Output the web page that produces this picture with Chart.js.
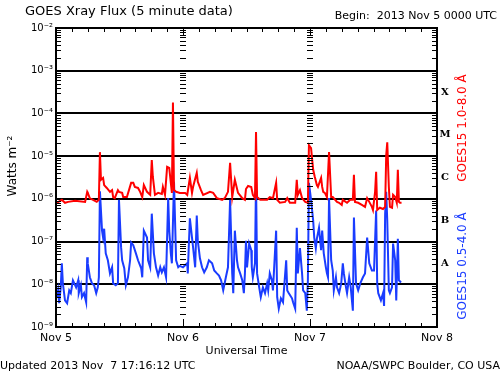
<!DOCTYPE html>
<html>
<head>
<meta charset="utf-8">
<script src="https://cdn.jsdelivr.net/npm/chart.js@4"></script>
<style>
  html, body { margin: 0; padding: 0; background: #fff; }
  canvas { display: block; }
</style>
</head>
<body>
<canvas id="xrayChart" width="500" height="375"></canvas>
<script>
// Hours since 2013 Nov 5 00:00 UTC and flux (W/m^2)
const redHours = [0.2, 1.1, 1.7, 2.3, 3.6, 5.5, 5.9, 6.0, 6.4, 7.0, 7.7, 8.1, 8.3, 8.5, 8.9, 9.1, 9.6, 10.2, 10.6, 10.8,
  11.1, 11.7, 11.9, 12.5, 12.7, 13.4, 14.2, 14.6, 14.9, 15.5, 15.9, 16.3, 16.6, 17.2, 17.8, 18.1, 18.3, 18.7, 19.3, 20.0,
  20.2, 20.6, 21.0, 21.4, 21.9, 22.1, 22.3, 22.7, 23.4, 24.4, 24.8, 25.3, 25.7, 25.9, 26.6, 26.8, 27.4, 27.8, 29.1, 29.7,
  30.4, 31.4, 31.9, 32.5, 32.9, 33.3, 33.8, 34.4, 35.2, 35.7, 35.9, 36.3, 36.9, 37.2, 37.6, 37.8, 38.0, 38.6, 39.9, 40.4,
  41.0, 41.6, 41.8, 42.3, 43.3, 43.7, 44.2, 45.2, 45.5, 45.7, 46.1, 46.5, 47.1, 47.6, 47.8, 48.2, 48.6, 48.9, 49.3, 49.5,
  50.1, 50.3, 50.5, 50.8, 51.2, 51.6, 52.0, 52.3, 53.1, 53.5, 54.0, 54.2, 55.0, 55.6, 56.1, 56.3, 56.5, 57.1, 57.8, 58.4,
  58.8, 59.2, 59.7, 59.9, 60.3, 60.5, 60.7, 61.2, 61.8, 62.2, 62.4, 62.6, 62.9, 63.1, 63.5, 63.7, 64.1, 64.4, 64.6, 64.8,
  65.0, 65.3];
const redFlux = [8.1e-7, 9.5e-7, 8.1e-7, 8.5e-7, 9e-7, 8.5e-7, 1.46e-6, 1.38e-6, 1.03e-6, 9.5e-7, 8.5e-7, 9.5e-7, 1.24e-5, 2.8e-6, 3.1e-6, 2.1e-6, 1.8e-6, 1.46e-6, 1.6e-6, 1.1e-6,
  1.04e-6, 1.6e-6, 1.46e-6, 1.38e-6, 1.1e-6, 1.1e-6, 2.37e-6, 2.37e-6, 1.9e-6, 1.8e-6, 1.46e-6, 1.1e-6, 2.1e-6, 1.46e-6, 1.24e-6, 8.1e-6, 3.3e-6, 1.24e-6, 1.38e-6, 1.3e-6,
  1.9e-6, 1.24e-6, 5.6e-6, 5.3e-6, 1.38e-6, 1.8e-4, 1.6e-6, 1.46e-6, 1.38e-6, 1.38e-6, 1.24e-6, 3.1e-6, 1.38e-6, 1.9e-6, 4.06e-6, 2.5e-6, 1.6e-6, 1.24e-6, 1.46e-6, 1.38e-6,
  1.04e-6, 9.5e-7, 1.04e-6, 1.46e-6, 7e-6, 1.1e-6, 2.8e-6, 1.38e-6, 1.04e-6, 9.5e-7, 1.7e-6, 2.0e-6, 1.9e-6, 1.24e-6, 1.04e-6, 3.65e-5, 1.1e-6, 9.5e-7, 9.5e-7, 1.1e-6,
  1.04e-6, 2.37e-6, 9.5e-7, 8.1e-7, 8.5e-7, 1.04e-6, 8.1e-7, 8.1e-7, 2.8e-6, 1.24e-6, 1.6e-6, 1.04e-6, 8.5e-7, 8.1e-7, 1.8e-5, 1.54e-5, 4.8e-6, 3.3e-6, 2.1e-6, 1.9e-6,
  3.1e-6, 1.9e-6, 1.46e-6, 1.38e-6, 1.1e-6, 1.24e-5, 1.1e-6, 1.1e-6, 8.5e-7, 8.1e-7, 7.2e-7, 9.5e-7, 8.1e-7, 9.5e-7, 9.5e-7, 3.65e-6, 8.5e-7, 8.1e-7, 7.2e-7, 6.5e-7,
  1.04e-6, 8.5e-7, 6.5e-7, 5.5e-7, 1.46e-6, 4.3e-6, 5.5e-7, 6.2e-7, 5.8e-7, 6.5e-7, 1.05e-5, 2.1e-5, 1.9e-6, 6.5e-7, 6.2e-7, 1.24e-6, 1.1e-6, 8.1e-7, 4.8e-6, 8.5e-7,
  8.1e-7, 8.1e-7];

const blueHours = [0.2, 0.4, 0.6, 0.9, 1.1, 1.3, 1.7, 2.1, 2.5, 2.8, 3.2, 3.8, 4.2, 4.3, 4.7, 4.9, 5.3, 5.7, 5.9, 6.0,
  6.4, 6.8, 7.2, 7.6, 7.9, 8.1, 8.3, 8.7, 8.9, 9.1, 9.4, 9.8, 10.2, 10.6, 10.8, 11.3, 11.7, 11.9, 12.3, 12.5,
  12.9, 13.2, 13.6, 14.0, 14.2, 14.6, 15.1, 15.5, 16.1, 16.3, 16.6, 17.2, 17.4, 17.8, 18.1, 18.5, 18.9, 19.3, 19.7, 20.0,
  20.4, 20.8, 21.2, 21.4, 21.7, 21.9, 22.3, 22.7, 23.1, 23.4, 24.0, 24.8, 24.9, 25.3, 25.7, 25.9, 26.3, 26.6, 26.8, 27.2,
  27.6, 28.0, 28.5, 28.9, 29.5, 29.9, 30.4, 30.8, 31.2, 31.6, 32.1, 32.5, 32.9, 33.3, 33.5, 33.8, 34.2, 34.4, 34.8, 35.2,
  35.5, 35.7, 35.9, 36.1, 36.5, 36.9, 37.0, 37.2, 37.6, 37.8, 38.0, 38.4, 38.7, 39.1, 39.5, 39.9, 40.1, 40.4, 40.8, 41.0,
  41.6, 41.8, 42.1, 42.5, 42.9, 43.5, 43.7, 44.0, 44.6, 44.8, 45.2, 45.5, 45.7, 46.1, 46.5, 46.7, 47.1, 47.4, 47.6, 47.8,
  48.2, 48.6, 48.8, 49.1, 49.3, 49.7, 50.1, 50.3, 50.6, 51.0, 51.2, 51.4, 51.6, 52.0, 52.3, 52.5, 52.9, 53.1, 53.5, 53.9,
  54.2, 54.4, 54.8, 55.0, 55.4, 55.7, 56.1, 56.3, 56.7, 57.1, 57.5, 58.0, 58.4, 58.8, 59.2, 59.7, 60.1, 60.5, 60.7, 60.9,
  61.4, 61.8, 62.0, 62.2, 62.4, 62.6, 62.9, 63.1, 63.5, 63.7, 64.1, 64.3, 64.6, 64.8, 65.2];
const blueFlux = [5e-9, 7.2e-9, 3.6e-9, 8.5e-9, 3.1e-8, 1.05e-8, 4.2e-9, 3.6e-9, 7.2e-9, 6.2e-9, 1.24e-8, 8.5e-9, 1.24e-8, 6.2e-9, 9.5e-9, 5e-9, 6.2e-9, 3.8e-9, 4.3e-8, 3.1e-8,
  1.46e-8, 1.05e-8, 9.5e-9, 6.2e-9, 8.5e-9, 1.46e-8, 1.5e-6, 1.8e-7, 1.24e-7, 2e-7, 5.3e-8, 3.65e-8, 1.8e-8, 2.5e-8, 1.05e-8, 9.5e-9, 1.05e-8, 9.5e-7, 7.4e-8, 3.65e-8,
  2.37e-8, 9.5e-9, 1.46e-8, 3.65e-8, 9.5e-8, 8.2e-8, 5.3e-8, 3.65e-8, 2.37e-8, 1.46e-8, 1.8e-7, 1.24e-7, 3.65e-8, 2.5e-8, 4.5e-7, 5.3e-8, 2.5e-8, 1.6e-8, 2.5e-8, 1.9e-8,
  2.5e-8, 1.46e-8, 1.05e-6, 1.8e-7, 5.3e-8, 3.1e-8, 2.5e-6, 3.65e-8, 2.5e-8, 2.7e-8, 2.5e-8, 3.1e-8, 1.8e-8, 3.5e-7, 1.24e-7, 7.4e-8, 2.5e-8, 4.06e-7, 1.05e-7, 4.06e-8,
  2.5e-8, 1.9e-8, 2.5e-8, 3.65e-8, 3.1e-8, 2.1e-8, 1.8e-8, 1.6e-8, 1.24e-8, 7.2e-9, 1.46e-8, 2.5e-8, 9.5e-7, 1.8e-8, 6.2e-9, 1.8e-7, 3.65e-8, 2.5e-8, 1.8e-8, 1.24e-8,
  6.2e-9, 1.8e-8, 1.05e-7, 2.5e-8, 9e-8, 6.3e-8, 2.5e-8, 1.46e-8, 3.1e-8, 2.8e-6, 1.8e-8, 8.5e-9, 5e-9, 8.5e-9, 6.2e-9, 1.05e-8, 7.2e-9, 1.8e-8, 1.24e-8, 7.2e-9,
  1.8e-7, 5e-9, 2.7e-9, 4.7e-9, 3.8e-9, 3.65e-8, 7.2e-9, 6.2e-9, 4.7e-9, 3.8e-9, 2.7e-9, 2.1e-7, 1.8e-8, 7e-8, 1.8e-8, 7.2e-9, 6.2e-9, 2.4e-9, 1.24e-8, 2.37e-6,
  9.5e-7, 3.1e-7, 1.24e-7, 7e-8, 1.17e-7, 2.1e-7, 6.3e-8, 1.8e-7, 5.3e-8, 2.5e-8, 1.8e-8, 1.46e-8, 1.05e-6, 3.65e-8, 2.1e-8, 7.2e-9, 1.46e-8, 8.5e-9, 6.2e-9, 1.05e-8,
  3.1e-8, 1.8e-8, 8.5e-9, 6.2e-9, 1.46e-8, 8.5e-9, 2.4e-9, 3.65e-7, 1.05e-8, 7.2e-9, 1.05e-8, 1.46e-8, 1.8e-8, 1.24e-7, 3.1e-8, 2.1e-8, 2.1e-8, 5.3e-7, 1.05e-8, 6.2e-9,
  4.2e-9, 6.2e-9, 3.1e-9, 4.5e-7, 1.46e-6, 3.1e-7, 7.2e-9, 6.2e-9, 8.5e-9, 9e-8, 3.65e-8, 4.2e-9, 1.17e-7, 1.24e-8, 1.1e-8];

const dayTicks = [0, 24, 48, 72];
const dayLabels = ['Nov 5', 'Nov 6', 'Nov 7', 'Nov 8'];
const decades = [1e-9, 1e-8, 1e-7, 1e-6, 1e-5, 1e-4, 1e-3, 1e-2];
const decadeLabels = ['10⁻⁹', '10⁻⁸', '10⁻⁷', '10⁻⁶', '10⁻⁵', '10⁻⁴', '10⁻³', '10⁻²'];
const flareClasses = ['A', 'B', 'C', 'M', 'X'];

const FONT = "'DejaVu Sans', sans-serif";

// frame, minor ticks and all the loose text around the plot
const decorations = {
    id: 'decorations',
    afterDatasetsDraw(chart) {
        const { ctx, chartArea: a, scales: { x, y } } = chart;
        ctx.save();
        ctx.strokeStyle = '#000';
        ctx.lineWidth = 1;

        // log minor ticks on left/right edges and at day boundaries
        ctx.beginPath();
        for (let i = 0; i < decades.length - 1; i++) {
            for (let m = 2; m <= 9; m++) {
                const py = Math.round(y.getPixelForValue(decades[i] * m)) + 0.5;
                ctx.moveTo(a.left, py); ctx.lineTo(a.left + 5, py);
                ctx.moveTo(a.right - 5, py); ctx.lineTo(a.right, py);
                [24, 48].forEach(h => {
                    const px = Math.round(x.getPixelForValue(h));
                    ctx.moveTo(px - 3, py); ctx.lineTo(px + 3, py);
                });
            }
        }
        // 3-hour ticks on top and bottom
        for (let h = 3; h < 72; h += 3) {
            const px = Math.round(x.getPixelForValue(h)) + 0.5;
            const len = h % 24 === 0 ? 8 : 4;
            ctx.moveTo(px, a.bottom); ctx.lineTo(px, a.bottom - len);
            ctx.moveTo(px, a.top); ctx.lineTo(px, a.top + len);
        }
        ctx.stroke();

        ctx.lineWidth = 2;
        ctx.strokeRect(a.left, a.top, a.right - a.left, a.bottom - a.top);

        ctx.fillStyle = '#000';
        ctx.textBaseline = 'middle';
        ctx.font = '13px ' + FONT;
        ctx.textAlign = 'left';
        ctx.fillText('GOES Xray Flux (5 minute data)', 25, 12);
        ctx.font = '11px ' + FONT;
        ctx.textAlign = 'right';
        ctx.fillText('Begin:  2013 Nov 5 0000 UTC', 497, 16);
        ctx.textAlign = 'left';
        ctx.fillText('Updated 2013 Nov  7 17:16:12 UTC', 0, 366);
        ctx.textAlign = 'right';
        ctx.fillText('NOAA/SWPC Boulder, CO USA', 500, 366);
        ctx.textAlign = 'center';
        ctx.fillText('Universal Time', (a.left + a.right) / 2, 351);

        // y title
        ctx.save();
        ctx.translate(13, 166);
        ctx.rotate(-Math.PI / 2);
        ctx.font = '12px ' + FONT;
        ctx.fillText('Watts m⁻²', 0, 0);
        ctx.restore();

        // flare class letters between decades
        ctx.font = "bold 10px 'DejaVu Serif', serif";
        flareClasses.forEach((c, i) => {
            const py = y.getPixelForValue(Math.pow(10, -7.5 + i));
            ctx.fillText(c, 445, py);
        });

        // satellite channel labels
        ctx.font = '12px ' + FONT;
        [['GOES15 1.0-8.0 Å', '#ff0000', 128], ['GOES15 0.5-4.0 Å', '#1a3cff', 266]].forEach(([t, col, cy]) => {
            ctx.save();
            ctx.translate(463, cy);
            ctx.rotate(-Math.PI / 2);
            ctx.fillStyle = col;
            ctx.fillText(t, 0, 0);
            ctx.restore();
        });
        ctx.restore();
    }
};

const ctx = document.getElementById('xrayChart').getContext('2d');
new Chart(ctx, {
    type: 'line',
    data: {
        datasets: [
            {
                label: 'GOES15 1.0-8.0 A',
                data: redHours.map((h, i) => ({ x: h, y: redFlux[i] })),
                borderColor: '#ff0000',
                borderWidth: 2,
                pointRadius: 0,
                tension: 0
            },
            {
                label: 'GOES15 0.5-4.0 A',
                data: blueHours.map((h, i) => ({ x: h, y: blueFlux[i] })),
                borderColor: '#1a3cff',
                borderWidth: 2,
                pointRadius: 0,
                tension: 0
            }
        ]
    },
    options: {
        responsive: false,
        animation: false,
        layout: { padding: { top: 28, right: 63, left: 0, bottom: 0 } },
        plugins: { legend: { display: false }, tooltip: { enabled: false } },
        scales: {
            x: {
                type: 'linear',
                min: 0,
                max: 72,
                afterBuildTicks: s => { s.ticks = dayTicks.map(v => ({ value: v })); },
                afterFit: s => { s.height = 48; },
                ticks: {
                    autoSkip: false,
                    maxRotation: 0,
                    padding: 5,
                    color: '#000',
                    font: { family: FONT, size: 11 },
                    callback: (v, i) => dayLabels[i]
                },
                grid: { display: false, drawTicks: false },
                border: { display: false }
            },
            y: {
                type: 'logarithmic',
                min: 1e-9,
                max: 1e-2,
                afterBuildTicks: s => { s.ticks = decades.map(v => ({ value: v })); },
                afterFit: s => { s.width = 56; },
                ticks: {
                    autoSkip: false,
                    padding: 3,
                    color: '#000',
                    font: { family: FONT, size: 10 },
                    callback: (v, i) => decadeLabels[i]
                },
                grid: { color: '#000', lineWidth: 2, drawTicks: false },
                border: { display: false }
            }
        }
    },
    plugins: [decorations]
});
</script>
</body>
</html>
